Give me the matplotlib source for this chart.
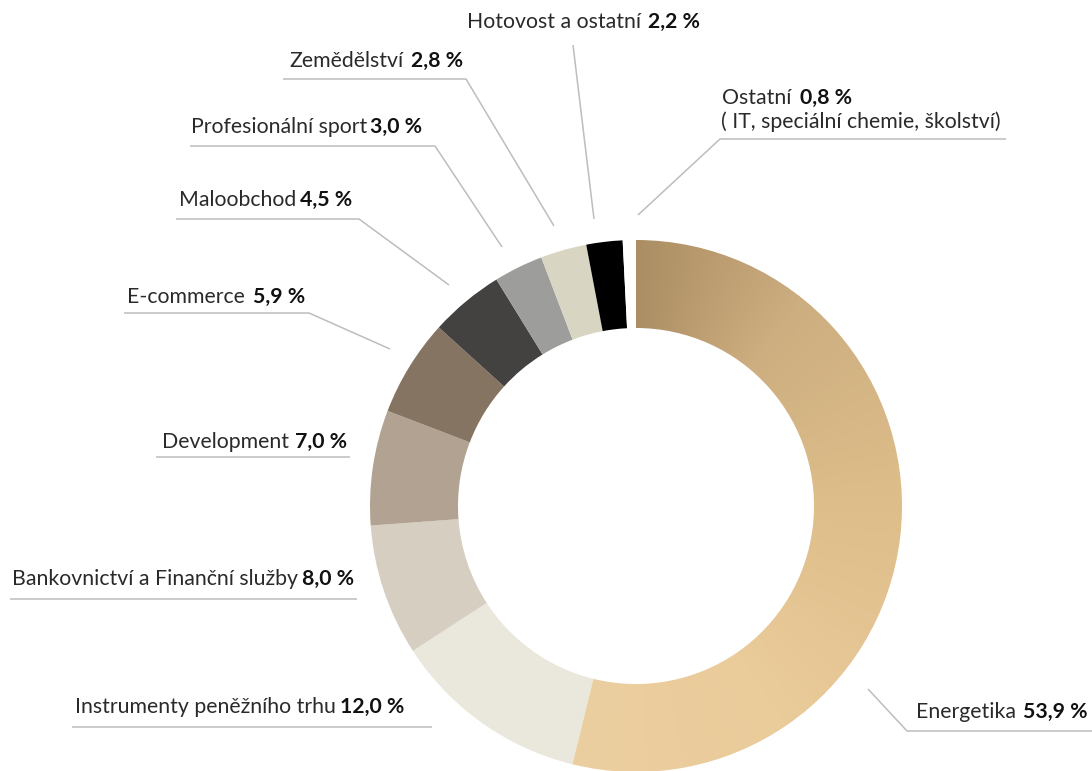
import numpy as np
import matplotlib
matplotlib.use('Agg')
import matplotlib.pyplot as plt
from matplotlib.colors import LinearSegmentedColormap

plt.rcParams['font.family'] = ['Lato', 'DejaVu Sans']

# ---------------- data ----------------
categories = ['Energetika', 'Instrumenty peněžního trhu', 'Bankovnictví a Finanční služby',
              'Development', 'E-commerce', 'Maloobchod', 'Profesionální sport',
              'Zemědělství', 'Hotovost a ostatní', 'Ostatní']
values = [53.9, 12.0, 8.0, 7.0, 5.9, 4.5, 3.0, 2.8, 2.2, 0.8]
notes = ['', '', '', '', '', '', '', '', '', '( IT, speciální chemie, školství)']

colors = ['none', '#EAE7DC', '#D5CEC1', '#B2A292', '#857462', '#434240',
          '#9D9D9B', '#D9D5C3', '#000000', '#FFFFFF']

# ---------------- layout (image pixel coords, y down) ----------------
W, H = 1092, 771
cx, cy = 636, 506
R_out, ring_w = 266, 88

# (label left x, gap before value, text centre y, leader polyline)
layout = [
    (916, 7, 712, [(1092, 731), (907, 731), (868, 689)]),
    (75, 4, 707, [(72, 727), (432, 727)]),
    (12, 4, 579, [(10, 599), (357, 599)]),
    (162, 6, 442, [(156, 457), (350, 457)]),
    (127, 8, 297, [(124, 313), (309, 313), (390, 349)]),
    (179, 4, 200, [(176, 219), (359, 219), (449, 285)]),
    (191, 3, 127, [(190, 146), (435, 146), (502, 247)]),
    (289, 8, 61, [(283, 79), (466, 79), (554, 226)]),
    (467, 7, 22, [(573, 45), (594, 219)]),
    (722, 9, 98, [(1006, 139), (720, 139), (638, 215)]),
]

def Y(y):
    return H - y

fig = plt.figure(figsize=(W / 100, H / 100), dpi=100)
ax = fig.add_axes([0, 0, 1, 1])

wedges, _ = ax.pie(values, colors=colors, startangle=90, counterclock=False,
                   center=(cx, Y(cy)), radius=R_out,
                   wedgeprops=dict(width=ring_w, linewidth=0), frame=True)
ax.set_xlim(0, W)
ax.set_ylim(0, H)
ax.set_aspect('equal')
ax.axis('off')

# gradient fill for the big slice
grad = LinearSegmentedColormap.from_list('gold', [(0.0, '#AC8E64'), (0.2, '#CDAE80'),
                                                   (0.45, '#DDBD89'), (0.75, '#EACB9A'),
                                                   (1.0, '#ECCFA0')])
xs = np.arange(cx - R_out - 2, cx + R_out + 2)
ys = np.arange(Y(cy) - R_out - 2, Y(cy) + R_out + 2)
gx, gy = np.meshgrid(xs, ys)
phi = np.degrees(np.arctan2(gx - cx, gy - Y(cy))) % 360
t = np.clip(phi / (values[0] / 100 * 360), 0, 1)
img = ax.imshow(grad(t), extent=(xs[0], xs[-1], ys[0], ys[-1]), origin='lower',
                interpolation='bilinear', zorder=1)
img.set_clip_path(wedges[0])

# labels and leaders
fs = 15.3
renderer = fig.canvas.get_renderer()
for cat, val, note, (lx, gap, ty, pts) in zip(categories, values, notes, layout):
    px = [p[0] for p in pts]
    py = [Y(p[1]) for p in pts]
    ax.plot(px, py, color='#BDBDBD', lw=1.1, solid_capstyle='butt', zorder=3)
    vtxt = f'{val:.1f}'.replace('.', ',') + ' %'
    lab = ax.text(lx, Y(ty), cat, ha='left', va='center', fontsize=fs, color='#2a2a2a')
    x_end = lab.get_window_extent(renderer).x1
    ax.text(x_end + gap, Y(ty), vtxt, ha='left', va='center', fontsize=fs,
            color='#111111', fontweight='bold')
    if note:
        ax.text(lx - 1, Y(ty + 24), note, ha='left', va='center', fontsize=fs,
                color='#2a2a2a')

fig.savefig('out.png', dpi=100)
